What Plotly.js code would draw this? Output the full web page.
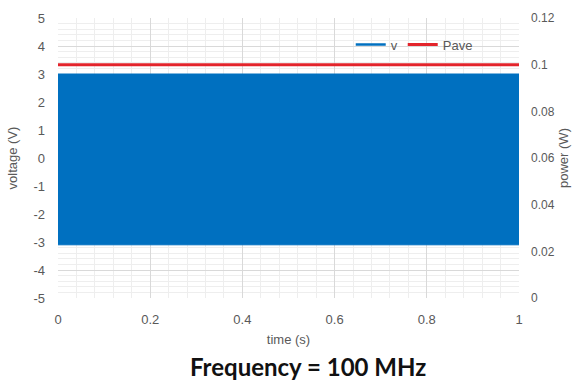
<!DOCTYPE html>
<html>
<head>
<meta charset="utf-8">
<script src="https://cdn.plot.ly/plotly-3.0.1.min.js"></script>
<style>html,body{margin:0;padding:0;background:#fff;}#chart{width:580px;height:381px;}</style>
</head>
<body>
<div id="chart"></div>
<script>
// time span (s)
const time = [0, 1];
// envelope of the 100 MHz voltage waveform (V) - too dense to resolve, appears as a solid band
const vUpper = [3.0, 3.0];
const vLower = [-3.1, -3.1];
// average power (W)
const pave = [0.1, 0.1];
const seriesNames = ['v', 'Pave'];
// tick labels
const xTickVals = [0, 0.2, 0.4, 0.6, 0.8, 1];
const xTickText = ['0', '0.2', '0.4', '0.6', '0.8', '1'];
const yTickVals = [-5, -4, -3, -2, -1, 0, 1, 2, 3, 4, 5];
const yTickText = ['-5', '-4', '-3', '-2', '-1', '0', '1', '2', '3', '4', '5'];
const y2TickVals = [0, 0.02, 0.04, 0.06, 0.08, 0.1, 0.12];
const y2TickText = ['0', '0.02', '0.04', '0.06', '0.08', '0.1', '0.12'];

const blue = '#0070C0';
const red = '#E3242B';
const grey = '#595959';

const traces = [
  {x: time, y: vLower, mode: 'lines', line: {color: blue, width: 1}, showlegend: false, hoverinfo: 'skip'},
  {x: time, y: vUpper, mode: 'lines', line: {color: blue, width: 1}, fill: 'tonexty', fillcolor: blue, showlegend: false, hoverinfo: 'skip'},
  {x: [null], y: [null], mode: 'lines', name: seriesNames[0], line: {color: blue, width: 2.5}},
  {x: time, y: pave, yaxis: 'y2', mode: 'lines', name: seriesNames[1], line: {color: red, width: 3}}
];

const layout = {
  width: 580, height: 381,
  margin: {l: 58, r: 61, t: 18, b: 83},
  paper_bgcolor: '#fff', plot_bgcolor: '#fff',
  font: {family: 'Liberation Sans, Arial, sans-serif', color: grey, size: 13},
  showlegend: true,
  legend: {orientation: 'h', traceorder: 'normal', x: 0.635, y: 0.905, xanchor: 'left', yanchor: 'middle', bgcolor: 'rgba(0,0,0,0)', font: {size: 13, color: grey}, itemwidth: 30},
  xaxis: {
    range: [0, 1], tickmode: 'array', tickvals: xTickVals, ticktext: xTickText,
    showgrid: true, gridcolor: '#D9D9D9', zeroline: false,
    showline: false, ticks: '', ticklabelstandoff: 12, tickfont: {size: 13, color: grey},
    minor: {dtick: 0.04, showgrid: true, gridcolor: '#EEEEEE'},
    title: {text: 'time (s)', font: {size: 13, color: grey}, standoff: 8}
  },
  yaxis: {
    range: [-5, 5], tickmode: 'array', tickvals: yTickVals, ticktext: yTickText,
    showgrid: true, gridcolor: '#D9D9D9', zeroline: false,
    ticks: '', ticklabelstandoff: 12, tickfont: {size: 13, color: grey},
    minor: {dtick: 0.2, showgrid: true, gridcolor: '#EEEEEE'},
    title: {text: 'voltage (V)', font: {size: 13, color: grey}, standoff: 12}
  },
  yaxis2: {
    overlaying: 'y', side: 'right', range: [0, 0.12], tickmode: 'array', tickvals: y2TickVals, ticktext: y2TickText,
    showgrid: false, zeroline: false,
    ticks: '', ticklabelstandoff: 11, tickfont: {size: 12, color: grey},
    title: {text: 'power (W)', font: {size: 13, color: grey}, standoff: 5}
  },
  annotations: [{
    text: '<b>Frequency = 100 MHz</b>', xref: 'paper', yref: 'paper', x: 0.542, y: -0.245,
    xanchor: 'center', yanchor: 'middle', showarrow: false,
    font: {family: 'Lato, Liberation Sans, sans-serif', size: 24, color: '#111'}
  }]
};

Plotly.newPlot('chart', traces, layout, {displayModeBar: false, staticPlot: true});
</script>
</body>
</html>
